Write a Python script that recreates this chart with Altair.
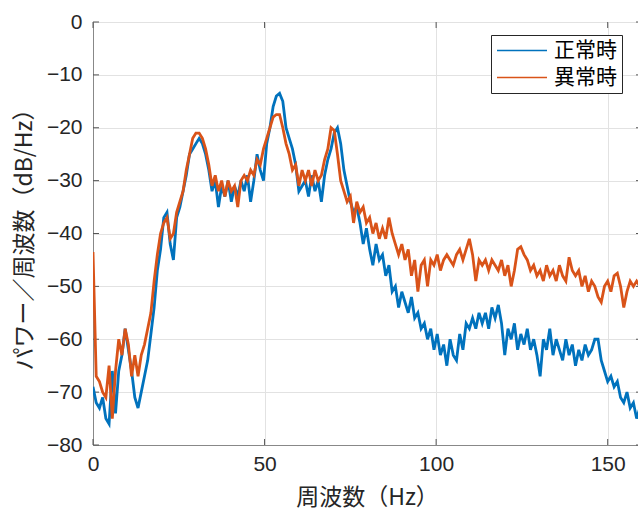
import altair as alt
import pandas as pd

# PSD values (dB/Hz), on a uniform frequency grid
FREQ_STEP = 0.9375  # Hz between successive PSD bins

NORMAL = [
    -69, -72, -73, -71, -75, -76, -66, -74, -66, -63,
    -58, -62, -66, -71, -73, -70, -67, -64, -59, -54,
    -47, -43, -37, -36, -42, -45, -37, -35, -32, -29,
    -25, -24, -23, -22, -23, -25, -28, -32, -30, -35,
    -31, -33, -30, -34, -31, -33, -30, -32, -29, -34,
    -30, -25, -28, -30, -23, -20, -16, -14, -13.5, -15,
    -20, -22, -24, -27, -32, -31, -30, -33, -29, -32,
    -30, -34, -29, -26, -24, -21, -20, -23, -28, -31,
    -34, -36, -35, -38, -42, -39, -43, -46, -42, -45,
    -44, -48, -46, -51, -50, -54, -51, -53, -55, -52,
    -56, -55, -58, -57, -60, -58, -62, -59, -63, -61,
    -65, -60, -63, -64, -59, -62, -57, -58, -56, -58,
    -55, -57, -55, -58, -54, -56, -53.5, -57, -63, -58,
    -60, -57, -62, -59, -61, -58, -62, -60, -63, -67,
    -60, -62, -58, -63, -60, -62, -64, -60, -63, -61,
    -65, -62, -64, -61, -63, -62, -60, -60, -64, -66,
    -68, -67, -69, -68, -71, -72, -70, -73, -72, -75,
    -73,
]

ABNORMAL = [
    -43.5, -67, -68, -70, -71, -65, -75, -66, -60, -63,
    -58, -61, -67, -63, -67, -63, -61, -58, -55, -49,
    -44, -40, -38, -37, -41, -40, -36, -34, -32, -28,
    -25, -22, -21, -21, -22, -24, -27, -31, -29, -32,
    -30, -33, -30, -32, -31, -35, -30, -29, -30, -28,
    -29, -26, -27, -24, -22, -20, -18, -17.5, -17.5, -20,
    -23, -25, -28, -27, -31, -28, -30, -28, -31, -28,
    -30, -29, -26, -24, -20, -20.5, -25, -30, -32, -34,
    -33, -38, -34, -36, -35, -38, -37, -40, -38, -41,
    -39, -41, -37, -40, -42, -44, -42, -45, -43, -48,
    -45, -51, -46, -45, -50, -45, -46, -44, -47, -45,
    -44, -45, -46, -44, -43, -45, -43, -41, -44, -49,
    -45, -46, -45, -47, -45, -46, -47, -45, -48, -46,
    -50, -47, -43, -42.5, -44, -45, -47, -46, -48, -47,
    -49, -46, -48, -47, -49, -46, -48, -49, -44.5, -47,
    -48, -47, -50, -48, -51, -49, -50, -52, -53, -50,
    -49, -51, -48, -47.5, -50, -54, -51, -49, -50, -49,
    -50,
]

SERIES = ["正常時", "異常時"]
COLORS = ["#0072BD", "#D95319"]
X_TICKS = [0, 50, 100, 150]
Y_TICKS = [0, -10, -20, -30, -40, -50, -60, -70, -80]

n = len(NORMAL)
freq = [i * FREQ_STEP for i in range(n)]
df = pd.DataFrame({
    "f": freq + freq,
    "p": NORMAL + ABNORMAL,
    "s": [SERIES[0]] * n + [SERIES[1]] * n,
})

W, H = 545, 423
FULL_W = 549  # the plot area continues slightly past the window edge
xscale = alt.Scale(domain=[0, 160], range=[0, FULL_W], nice=False, zero=False)
yscale = alt.Scale(domain=[-80, 0], nice=False)

LABEL_FONT = "Liberation Sans"
CJK = "Noto Sans CJK JP"
TXT = "#262626"

xaxis = alt.Axis(
    values=X_TICKS, title="周波数（Hz）", grid=True, gridColor="#e2e2e2",
    tickSize=0, labelPadding=8, labelFontSize=21, labelFont=LABEL_FONT,
    labelColor=TXT, labelFlush=False, labelOverlap=False, domainColor="#888",
    titleFont=CJK, titleFontSize=23, titleFontWeight="normal", titleColor=TXT,
    titleY=52, titleBaseline="middle", titleX=274,
)
yaxis = alt.Axis(
    values=Y_TICKS, title="パワー／周波数（dB/Hz）", grid=True, gridColor="#e2e2e2",
    tickSize=0, labelPadding=11, labelFontSize=21, labelFont=LABEL_FONT,
    labelColor=TXT, labelFlush=False, labelOverlap=False, domainColor="#888",
    titleFont=CJK, titleFontSize=23, titleFontWeight="normal", titleColor=TXT,
    titleX=-69, titleY=H / 2, titleBaseline="middle", titleAngle=-90,
)

color = alt.Color(
    "s:N",
    scale=alt.Scale(domain=SERIES, range=COLORS),
    legend=alt.Legend(
        title=None, orient="none", legendX=398, legendY=13, direction="vertical",
        symbolType="stroke", symbolSize=2500, symbolStrokeWidth=1.6, clipHeight=21,
        labelFont=CJK, labelFontSize=21, labelColor="#000",
        fillColor="white", strokeColor="#262626", padding=5, rowPadding=5,
        labelOffset=6, cornerRadius=0,
    ),
)

base = alt.Chart(df)
layers = []
for name in SERIES:
    layers.append(
        base.transform_filter(alt.datum.s == name)
        .mark_line(strokeWidth=2.8, clip=True)
        .encode(
            x=alt.X("f:Q", scale=xscale, axis=xaxis),
            y=alt.Y("p:Q", scale=yscale, axis=yaxis),
            color=color,
        )
    )

ydf = pd.DataFrame({"v": Y_TICKS})
xdf = pd.DataFrame({"v": X_TICKS})
TICK = "#555555"
left_ticks = alt.Chart(ydf).mark_rule(color=TICK, strokeWidth=1).encode(
    y=alt.Y("v:Q", scale=yscale, axis=yaxis), x=alt.value(0), x2=alt.value(6))
right_ticks = alt.Chart(ydf).mark_rule(color=TICK, strokeWidth=1).encode(
    y=alt.Y("v:Q", scale=yscale, axis=yaxis), x=alt.value(FULL_W - 6), x2=alt.value(FULL_W))
bottom_ticks = alt.Chart(xdf).mark_rule(color=TICK, strokeWidth=1).encode(
    x=alt.X("v:Q", scale=xscale, axis=xaxis), y=alt.value(H), y2=alt.value(H - 6))
top_ticks = alt.Chart(xdf).mark_rule(color=TICK, strokeWidth=1).encode(
    x=alt.X("v:Q", scale=xscale, axis=xaxis), y=alt.value(0), y2=alt.value(6))

chart = alt.layer(
    left_ticks, right_ticks, bottom_ticks, top_ticks, *layers
).properties(
    width=W, height=H,
    autosize=alt.AutoSizeParams(type="none"),
    padding={"left": 93, "top": 22, "right": 0, "bottom": 64},
    background="white",
).configure_view(stroke="#888", strokeWidth=1)

chart.save("out.html", embed_options={"renderer": "svg", "actions": False})
